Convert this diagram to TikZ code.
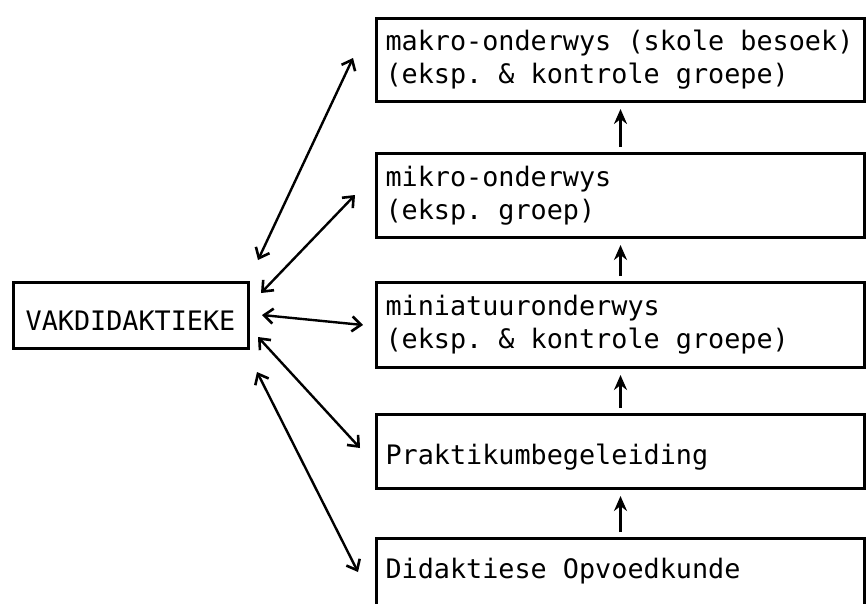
\documentclass[tikz,border=0pt]{standalone}
\usepackage{fontspec}
\setmonofont{DejaVu Sans Mono}
\usetikzlibrary{arrows.meta}
\newcommand\fixsp{\spaceskip=\fontcharwd\font`m\relax\xspaceskip=\spaceskip}
\begin{document}
\begin{tikzpicture}[x=1pt,y=-1pt,
  txt/.style={font=\ttfamily\fontsize{26.8}{33}\selectfont, execute at begin node=\fixsp},
  box/.style={txt, draw, line width=3pt, rectangle, anchor=north west,
    minimum width=488pt, inner xsep=9pt, text width=470pt, align=left},
  dbl/.style={line width=2.4pt,
    {Straight Barb[length=9pt,width=15pt,line width=2.6pt]}-{Straight Barb[length=9pt,width=15pt,line width=2.6pt]}},
  up/.style={line width=2.6pt, -{Stealth[length=15pt,width=13pt]},
    shorten <=5pt, shorten >=6pt}]
\useasboundingbox (0,0) rectangle (866,603);
\clip (0,0) rectangle (866,603);

\node[box, minimum height=83pt] (makro) at (375,17)
  {makro-onderwys (skole besoek)\\(eksp. \& kontrole groepe)};
\node[box, minimum height=84pt] (mikro) at (375,152)
  {mikro-onderwys\\(eksp. groep)};
\node[box, minimum height=85pt] (mini) at (375,281)
  {miniatuuronderwys\\(eksp. \& kontrole groepe)};
\node[box, minimum height=74pt, text height=26pt, text depth=0pt] (prak) at (375,413)
  {Praktikumbegeleiding};
\node[box, minimum height=83pt, text height=20pt, text depth=23pt] (did) at (375,537)
  {Didaktiese Opvoedkunde};

\node[txt, draw, line width=3pt, minimum width=235pt, minimum height=66pt,
  text height=30pt, text depth=0pt, inner sep=0pt] (vak) at (130.5,315) {VAKDIDAKTIEKE};

\draw[up] (mikro.north) -- (makro.south);
\draw[up] (mini.north) -- (mikro.south);
\draw[up] (prak.north) -- (mini.south);
\draw[up] (did.north) -- (prak.south);

\coordinate (v1) at (258,260);
\coordinate (m1) at (353,58);
\coordinate (v2) at (261,293);
\coordinate (m2) at (355,195);
\coordinate (v3) at (262,315);
\coordinate (m3) at (363,325);
\coordinate (v4) at (258,337);
\coordinate (m4) at (360,448);
\coordinate (v5) at (257,372);
\coordinate (m5) at (358,572);

\draw[dbl] (v1) -- (m1);
\draw[dbl] (v2) -- (m2);
\draw[dbl] (v3) -- (m3);
\draw[dbl] (v4) -- (m4);
\draw[dbl] (v5) -- (m5);
\end{tikzpicture}
\end{document}
